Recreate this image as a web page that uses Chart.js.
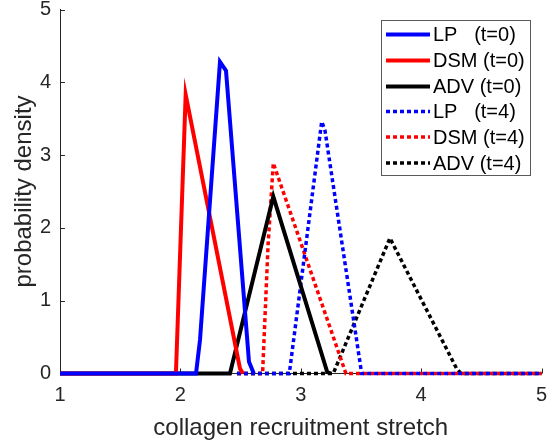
<!DOCTYPE html>
<html>
<head>
<meta charset="utf-8">
<script src="https://cdn.jsdelivr.net/npm/chart.js@4/dist/chart.umd.min.js"></script>
<style>
  html, body { margin: 0; padding: 0; background: #fff; }
  #wrap { width: 547px; height: 446px; }
</style>
</head>
<body>
<div id="wrap"><canvas id="c" width="547" height="446"></canvas></div>
<script>
// ---- data ----
const seriesNames = ['LP   (t=0)', 'DSM (t=0)', 'ADV (t=0)', 'LP   (t=4)', 'DSM (t=4)', 'ADV (t=4)'];

const lpT0X  = [1, 2.13, 2.163, 2.329, 2.379, 2.57, 2.61];
const lpT0Y  = [0, 0,    0.46,  4.28,  4.16,  0.16, 0];

const dsmT0X = [1, 1.963, 2.044, 2.495, 2.52];
const dsmT0Y = [0, 0,     3.83,  0.07,  0];

const advT0X = [1, 2.412, 2.772, 3.22, 3.25];
const advT0Y = [0, 0,     2.43,  0.02, 0];

const lpT4X  = [2.47, 2.905, 3.174, 3.201, 3.506, 5];
const lpT4Y  = [0,    0,     3.46,  3.34,  0,     0];

const dsmT4X = [2.47, 2.683, 2.728, 2.772, 3.375, 5];
const dsmT4Y = [0,    0,     1.75,  2.89,  0,     0];

const advT4X = [2.47, 3.27, 3.741, 4.294, 4.33, 5];
const advT4Y = [0,    0,    1.86,  0.07,  0,    0];

const xTicks = [1, 2, 3, 4, 5];
const yTicks = [0, 1, 2, 3, 4, 5];
const xTitle = 'collagen recruitment stretch';
const yTitle = 'probability density';

// ---- build ----
function pts(xs, ys) { return xs.map((x, i) => ({ x: x, y: ys[i] })); }
const colors = ['#0000ff', '#ff0000', '#000000', '#0000ff', '#ff0000', '#000000'];
const xsAll = [lpT0X, dsmT0X, advT0X, lpT4X, dsmT4X, advT4X];
const ysAll = [lpT0Y, dsmT0Y, advT0Y, lpT4Y, dsmT4Y, advT4Y];

const datasets = seriesNames.map((name, i) => {
  const dotted = i >= 3;
  return {
    label: name,
    data: pts(xsAll[i], ysAll[i]),
    borderColor: colors[i],
    backgroundColor: colors[i],
    borderWidth: dotted ? 3.5 : 4,
    borderDash: dotted ? [4, 3] : [],
    pointRadius: 0,
    tension: 0,
    fill: false,
    clip: 4
  };
});

const AXIS_COLOR = '#262626';
const FONT = 'Liberation Sans, Arial, Helvetica, sans-serif';

// inward tick marks (MATLAB style)
const inwardTicks = {
  id: 'inwardTicks',
  beforeDatasetsDraw(chart) {
    const { ctx, chartArea, scales } = chart;
    ctx.save();
    ctx.strokeStyle = AXIS_COLOR;
    ctx.lineWidth = 1;
    const len = 5;
    scales.y.ticks.forEach(t => {
      const y = Math.round(scales.y.getPixelForValue(t.value)) + 0.5;
      ctx.beginPath();
      ctx.moveTo(chartArea.left, y);
      ctx.lineTo(chartArea.left + len, y);
      ctx.stroke();
    });
    scales.x.ticks.forEach(t => {
      const x = Math.round(scales.x.getPixelForValue(t.value)) + 0.5;
      ctx.beginPath();
      ctx.moveTo(x, chartArea.bottom);
      ctx.lineTo(x, chartArea.bottom - len);
      ctx.stroke();
    });
    ctx.restore();
  }
};

// boxed legend inside the plot, top right
const boxLegend = {
  id: 'boxLegend',
  afterDraw(chart) {
    const { ctx } = chart;
    const bx = 381.5, by = 20.5, bw = 149, bh = 155;
    ctx.save();
    ctx.fillStyle = '#ffffff';
    ctx.fillRect(bx, by, bw, bh);
    ctx.strokeStyle = '#5a5a5a';
    ctx.lineWidth = 1;
    ctx.strokeRect(bx, by, bw, bh);
    const rowY = [34.5, 60.5, 86.5, 111.5, 137, 163];
    chart.data.datasets.forEach((ds, i) => {
      const y = rowY[i];
      ctx.beginPath();
      ctx.strokeStyle = ds.borderColor;
      ctx.lineWidth = ds.borderWidth;
      ctx.setLineDash(ds.borderDash || []);
      ctx.moveTo(386, y);
      ctx.lineTo(430, y);
      ctx.stroke();
      ctx.setLineDash([]);
      ctx.fillStyle = '#000000';
      ctx.font = '20px ' + FONT;
      ctx.textBaseline = 'middle';
      ctx.textAlign = 'left';
      ctx.fillText(ds.label, 433, y + 1);
    });
    ctx.restore();
  }
};

new Chart(document.getElementById('c'), {
  type: 'line',
  data: { datasets: datasets },
  options: {
    responsive: false,
    animation: false,
    devicePixelRatio: 1,
    layout: { padding: { left: 0, right: 5.5, top: 9.5, bottom: 0 } },
    plugins: { legend: { display: false }, tooltip: { enabled: false } },
    scales: {
      x: {
        type: 'linear',
        min: 1, max: 5,
        afterBuildTicks(scale) { scale.ticks = xTicks.map(v => ({ value: v })); },
        afterFit(scale) { scale.height = 446 - 373.5; scale.paddingLeft = 0; scale.paddingRight = 0; },
        grid: { display: true, drawOnChartArea: false, drawTicks: false },
        border: { display: true, color: AXIS_COLOR, width: 1 },
        ticks: { color: AXIS_COLOR, padding: 10, font: { family: FONT, size: 20 }, maxRotation: 0 },
        title: { display: true, text: xTitle, color: AXIS_COLOR, font: { family: FONT, size: 24 }, padding: { top: 0, bottom: 3 } }
      },
      y: {
        type: 'linear',
        min: 0, max: 5,
        afterBuildTicks(scale) { scale.ticks = yTicks.map(v => ({ value: v })); },
        afterFit(scale) { scale.width = 60; scale.paddingTop = 0; scale.paddingBottom = 0; },
        grid: { display: true, drawOnChartArea: false, drawTicks: false },
        border: { display: true, color: AXIS_COLOR, width: 1 },
        ticks: { color: AXIS_COLOR, padding: 9, font: { family: FONT, size: 20 } },
        title: { display: true, text: yTitle, color: AXIS_COLOR, font: { family: FONT, size: 24 }, padding: { top: 10, bottom: 0 } }
      }
    }
  },
  plugins: [inwardTicks, boxLegend]
});
</script>
</body>
</html>
